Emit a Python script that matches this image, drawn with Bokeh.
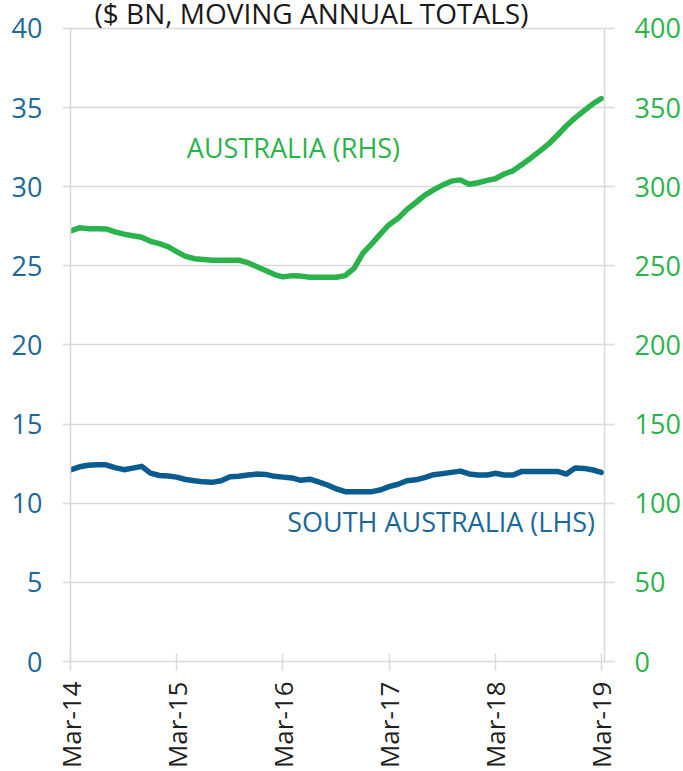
import math
import pandas as pd
from bokeh.plotting import figure
from bokeh.models import (LinearAxis, Range1d, FixedTicker, DatetimeTickFormatter,
                          Label, ColumnDataSource)
from bokeh.embed import file_html
from bokeh.resources import INLINE

# ---- data ----
months = pd.date_range("2014-03-01", "2019-03-01", freq="MS")

australia_rhs = [272, 274, 273.5, 273.5, 273.3, 271.5, 270, 269, 268, 265.5,
                 264, 262, 259, 256, 254.5, 254, 253.5, 253.5, 253.5, 253.5,
                 252, 249.5, 247, 244.5, 243, 243.8, 243.5, 242.8, 242.8, 242.8,
                 242.8, 243.8, 248.6, 258, 264, 270.5, 276, 280, 285.5, 290,
                 294.5, 298, 301, 303.5, 304.3, 301.5, 302.5, 304, 305, 308,
                 310, 314, 318, 322.5, 327, 332.5, 338.5, 343.5, 348, 352.5,
                 355.7]

south_australia_lhs = [12.1, 12.3, 12.4, 12.43, 12.43, 12.25, 12.12, 12.22, 12.33, 11.9,
                       11.75, 11.72, 11.65, 11.5, 11.42, 11.35, 11.32, 11.42, 11.67, 11.7,
                       11.78, 11.84, 11.82, 11.7, 11.65, 11.6, 11.45, 11.52, 11.35, 11.15,
                       10.9, 10.73, 10.73, 10.73, 10.73, 10.85, 11.05, 11.2, 11.42, 11.48,
                       11.62, 11.8, 11.87, 11.95, 12.03, 11.85, 11.78, 11.78, 11.89, 11.78,
                       11.78, 12.01, 12.01, 12.01, 12.01, 12.01, 11.84, 12.22, 12.2, 12.1,
                       11.95]

tick_dates = ["2014-03-01", "2015-03-01", "2016-03-01",
              "2017-03-01", "2018-03-01", "2019-03-01"]
left_ticks = [0, 5, 10, 15, 20, 25, 30, 35, 40]
right_ticks = [0, 50, 100, 150, 200, 250, 300, 350, 400]

title_text = "($ BN, MOVING ANNUAL TOTALS)"
label_aus = "AUSTRALIA (RHS)"
label_sa = "SOUTH AUSTRALIA (LHS)"

# ---- style ----
GREEN = "#2bb34b"
BLUE = "#0a5c8e"
BLUE_TXT = "#1c689b"
GRID = "#d9d9d9"
FONT = "Open Sans"

src = ColumnDataSource(dict(x=months, aus=australia_rhs, sa=south_australia_lhs))

x_start = months[0]
x_end = months[-1] + pd.Timedelta(days=11)
# frame reaches the top of the canvas so the title (inside the frame) is drawn
TOP_PAD = 28 / 15.875

p = figure(width=683, height=771, x_axis_type="datetime",
           x_range=Range1d(x_start, x_end), y_range=Range1d(0, 40 + TOP_PAD),
           output_backend="svg", toolbar_location=None,
           min_border_left=70, min_border_right=78,
           min_border_top=0, min_border_bottom=108)
p.outline_line_color = None
p.background_fill_color = "white"
p.border_fill_color = "white"
p.extra_y_ranges = {"right": Range1d(0, 400 + TOP_PAD * 10)}

# grid
p.xgrid.grid_line_color = None
p.ygrid.grid_line_color = GRID
p.ygrid.grid_line_width = 1.5
p.ygrid.ticker = FixedTicker(ticks=left_ticks)

# x axis
xa = p.xaxis[0]
xa.ticker = FixedTicker(ticks=[pd.Timestamp(d).value / 1e6 for d in tick_dates])
xa.formatter = DatetimeTickFormatter(months="%b-%y", days="%b-%y", years="%b-%y")
xa.major_label_orientation = math.pi / 2
xa.axis_line_color = GRID
xa.axis_line_width = 1.5
xa.major_tick_line_color = GRID
xa.major_tick_line_width = 1.5
xa.major_tick_in = 8
xa.major_tick_out = 9
xa.minor_tick_line_color = None
xa.major_label_standoff = 11
xa.major_label_text_font = FONT
xa.major_label_text_font_size = "26px"
xa.major_label_text_color = "#1e1e1e"

# left axis
ya = p.yaxis[0]
ya.ticker = FixedTicker(ticks=left_ticks)
ya.bounds = (0, 40)
ya.axis_line_color = GRID
ya.axis_line_width = 1.5
ya.major_tick_line_color = GRID
ya.major_tick_line_width = 1.5
ya.major_tick_in = 0
ya.major_tick_out = 8
ya.minor_tick_line_color = None
ya.major_label_standoff = 20
ya.major_label_text_font = FONT
ya.major_label_text_font_size = "27px"
ya.major_label_text_color = BLUE_TXT

# right axis
ra = LinearAxis(y_range_name="right", ticker=FixedTicker(ticks=right_ticks),
                bounds=(0, 400))
ra.axis_line_color = GRID
ra.axis_line_width = 1.5
ra.major_tick_line_color = GRID
ra.major_tick_line_width = 1.5
ra.major_tick_in = 0
ra.major_tick_out = 10
ra.minor_tick_line_color = None
ra.major_label_standoff = 20
ra.major_label_text_font = FONT
ra.major_label_text_font_size = "27px"
ra.major_label_text_color = GREEN
p.add_layout(ra, "right")

# lines
p.line("x", "aus", source=src, y_range_name="right", line_color=GREEN,
       line_width=5.5, line_join="round", line_cap="round")
p.line("x", "sa", source=src, line_color=BLUE,
       line_width=5.5, line_join="round", line_cap="round")

# texts
p.add_layout(Label(x=pd.Timestamp("2016-06-07"), y=41.0, text=title_text,
                   text_align="center", text_baseline="alphabetic",
                   text_font=FONT, text_font_size="28px", text_color="#1a1a1a"))
p.add_layout(Label(x=pd.Timestamp("2016-04-06"), y=324.8, y_range_name="right",
                   text=label_aus, text_align="center", text_baseline="alphabetic",
                   text_font=FONT, text_font_size="27px", text_color=GREEN))
p.add_layout(Label(x=pd.Timestamp("2017-08-27"), y=8.86, text=label_sa,
                   text_align="center", text_baseline="alphabetic",
                   text_font=FONT, text_font_size="27px", text_color=BLUE_TXT))

open("out.html", "w").write(file_html(p, INLINE))
